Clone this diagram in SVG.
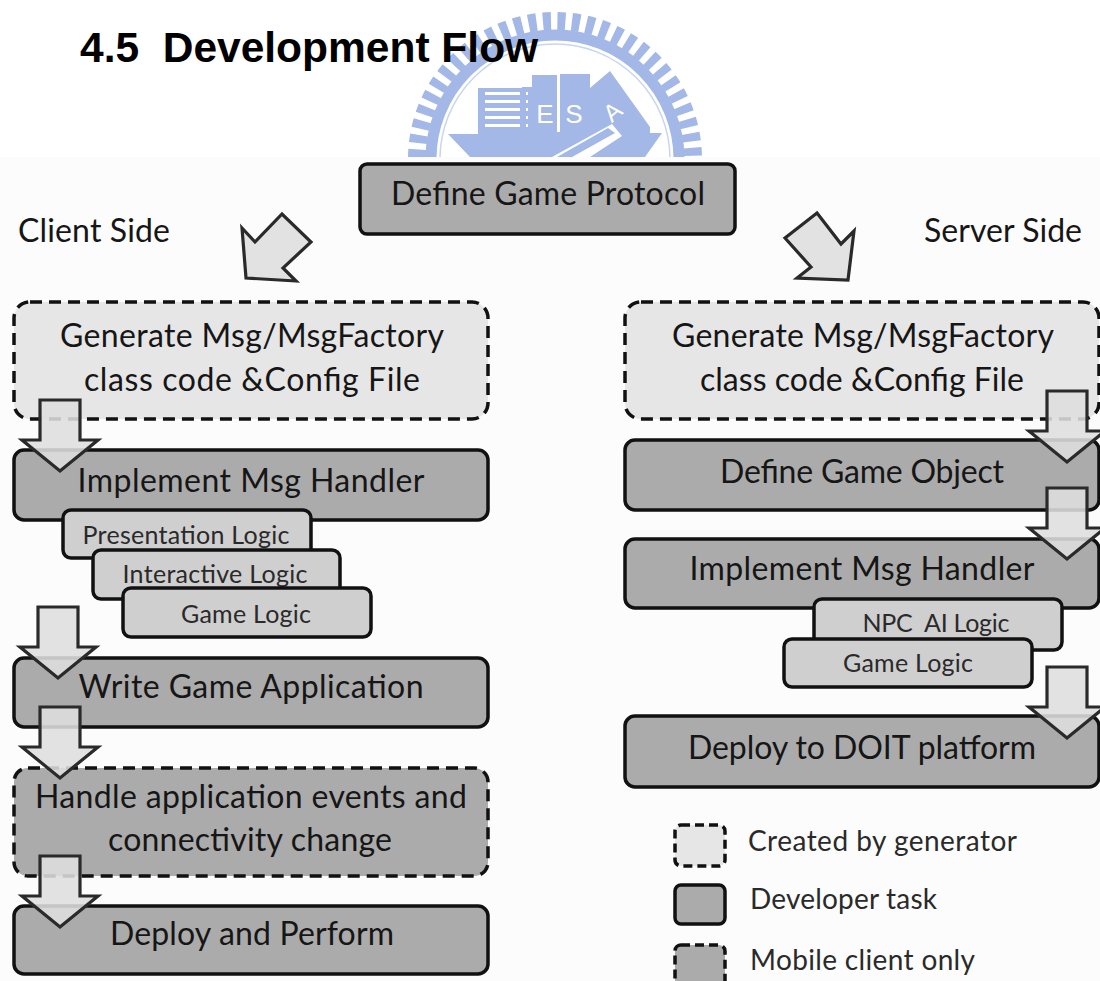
<svg xmlns="http://www.w3.org/2000/svg" width="1100" height="981" viewBox="0 0 1100 981">
<defs>
<style>
.t{font-family:"Lato","Open Sans","Liberation Sans",sans-serif;fill:#161616;text-anchor:middle}
.b{font-size:32px}
.s{font-size:25px;fill:#2a2a2a}
.l{font-size:28px;fill:#2a2a2a;text-anchor:start}
.dev{fill:#ababab;stroke:#111111;stroke-width:3.5}
.gen{fill:#e6e6e6;stroke:#111111;stroke-width:3.5;stroke-dasharray:12 7}
.mob{fill:#ababab;stroke:#111111;stroke-width:3.5;stroke-dasharray:12 7}
.sub{fill:#cfcfcf;stroke:#111111;stroke-width:3.5}
.arr{fill:#dedede;fill-opacity:.88;stroke:#2a2a2a;stroke-width:3.2;stroke-linejoin:miter}
.wm{fill:#a3b8e6}
</style>
<path id="down" d="M-20 0H20V40H38L0 71L-38 40H-20Z"/>
<clipPath id="wmclip"><rect x="400" y="0" width="320" height="157"/></clipPath>
</defs>
<rect width="1100" height="981" fill="#ffffff"/>
<rect y="157" width="1100" height="824" fill="#fcfcfc"/>
<g id="watermark" clip-path="url(#wmclip)">
<circle cx="555" cy="159" r="138" fill="none" stroke="#a3b8e6" stroke-width="18" stroke-dasharray="8 6.5"/>
<circle cx="555" cy="159" r="124" fill="none" stroke="#a3b8e6" stroke-width="11"/>
<circle cx="555" cy="159" r="115" fill="none" stroke="#c9d5ef" stroke-width="1.5"/>
<path class="wm" d="M478 88H522V87H532V75H557V74H590V88L610 71L650 127V133H662L645 157H470L448 134H478Z"/>
<g fill="#ffffff">
<rect x="485" y="92" width="35" height="3"/><rect x="485" y="100" width="35" height="3"/><rect x="485" y="108" width="35" height="3"/><rect x="485" y="116" width="35" height="3"/><rect x="485" y="124" width="35" height="3"/>
<rect x="526" y="92" width="2" height="3"/><rect x="526" y="100" width="2" height="3"/><rect x="526" y="108" width="2" height="3"/><rect x="526" y="116" width="2" height="3"/><rect x="526" y="124" width="2" height="3"/>
<rect x="557" y="74" width="3" height="58"/>
<path d="M557 157L608 128L615 133L572 157H590L622 136L612 124L552 157Z"/>
</g>
<text x="545" y="123" font-family="Liberation Sans,sans-serif" font-size="26" fill="#ffffff" text-anchor="middle">E</text>
<text x="574" y="123" font-family="Liberation Sans,sans-serif" font-size="26" fill="#ffffff" text-anchor="middle">S</text>
<text x="0" y="0" transform="translate(618 118) rotate(-40)" font-family="Liberation Sans,sans-serif" font-size="24" fill="#ffffff" text-anchor="middle">A</text>
</g>
<text id="title" x="80" y="62" font-family="Liberation Sans,Arial,sans-serif" font-size="42.5" font-weight="700" fill="#000000" xml:space="preserve">4.5  Development Flow</text>
<g id="define-protocol"><rect class="dev" x="360" y="164" width="375" height="70" rx="7"/><text class="t b" x="548" y="205" textLength="314">Define Game Protocol</text></g>
<g id="client-side"><text class="t b" x="94" y="242" textLength="152">Client Side</text></g>
<g id="server-side"><text class="t b" x="1003" y="242" textLength="158">Server Side</text></g>
<g id="client-generate"><rect class="gen" x="14" y="302" width="474" height="117" rx="16"/><text class="t b" x="252" y="347" textLength="384">Generate Msg/MsgFactory</text><text class="t b" x="252" y="391" textLength="336">class code &amp;Config File</text></g>
<g id="client-handler"><rect class="dev" x="14" y="450" width="474" height="70" rx="10"/><text class="t b" x="251" y="492" textLength="347">Implement Msg Handler</text></g>
<g id="presentation-logic"><rect class="sub" x="63" y="510" width="248" height="48" rx="8"/><text class="t s" x="186" y="544" textLength="207">Presentation Logic</text></g>
<g id="interactive-logic"><rect class="sub" x="93" y="550" width="247" height="49" rx="8"/><text class="t s" x="215" y="583" textLength="185">Interactive Logic</text></g>
<g id="client-game-logic"><rect class="sub" x="123" y="588" width="248" height="49" rx="8"/><text class="t s" x="246" y="623" textLength="130">Game Logic</text></g>
<g id="write-app"><rect class="dev" x="14" y="658" width="474" height="69" rx="10"/><text class="t b" x="251" y="698" textLength="345">Write Game Application</text></g>
<g id="handle-events"><rect class="mob" x="14" y="768" width="474" height="108" rx="14"/><text class="t b" x="251" y="808" textLength="432">Handle application events and</text><text class="t b" x="250" y="851" textLength="284">connectivity change</text></g>
<g id="deploy-perform"><rect class="dev" x="14" y="906" width="474" height="68" rx="10"/><text class="t b" x="252" y="945" textLength="284">Deploy and Perform</text></g>
<g id="server-generate"><rect class="gen" x="625" y="302" width="474" height="117" rx="16"/><text class="t b" x="863" y="347" textLength="382">Generate Msg/MsgFactory</text><text class="t b" x="862" y="391" textLength="324">class code &amp;Config File</text></g>
<g id="define-object"><rect class="dev" x="625" y="440" width="474" height="70" rx="10"/><text class="t b" x="862" y="483" textLength="284">Define Game Object</text></g>
<g id="server-handler"><rect class="dev" x="625" y="539" width="474" height="69" rx="10"/><text class="t b" x="862" y="580" textLength="345">Implement Msg Handler</text></g>
<g id="npc-logic"><rect class="sub" x="814" y="599" width="248" height="51" rx="8"/><text class="t s" x="936" y="632" textLength="147" xml:space="preserve">NPC  AI Logic</text></g>
<g id="server-game-logic"><rect class="sub" x="784" y="639" width="248" height="48" rx="8"/><text class="t s" x="908" y="672" textLength="130">Game Logic</text></g>
<g id="deploy-doit"><rect class="dev" x="625" y="716" width="474" height="71" rx="10"/><text class="t b" x="862" y="759" textLength="348">Deploy to DOIT platform</text></g>
<g id="connectors">
<path class="arr" d="M242 228L255 242L282 214L311 242L283 268L296 281L246 278Z"/>
<path class="arr" d="M785 238L817 213L841 244L854 231L848 280L797 278L811 267Z"/>
<use href="#down" class="arr" x="60" y="400"/>
<use href="#down" class="arr" x="58" y="607"/>
<use href="#down" class="arr" x="60" y="707"/>
<use href="#down" class="arr" x="60" y="856"/>
<use href="#down" class="arr" x="1067" y="391"/>
<use href="#down" class="arr" x="1067" y="488"/>
<use href="#down" class="arr" x="1067" y="667"/>
</g>
<g id="legend">
<rect class="gen" x="675" y="825" width="50" height="41" rx="6" style="stroke-dasharray:9 5"/>
<text class="t l" x="748" y="851" textLength="269">Created by generator</text>
<rect class="dev" x="675" y="885" width="50" height="39" rx="6"/>
<text class="t l" x="750" y="909" textLength="187">Developer task</text>
<rect class="mob" x="675" y="945" width="50" height="44" rx="6" style="stroke-dasharray:9 5"/>
<text class="t l" x="750" y="970" textLength="225">Mobile client only</text>
</g>
</svg>
